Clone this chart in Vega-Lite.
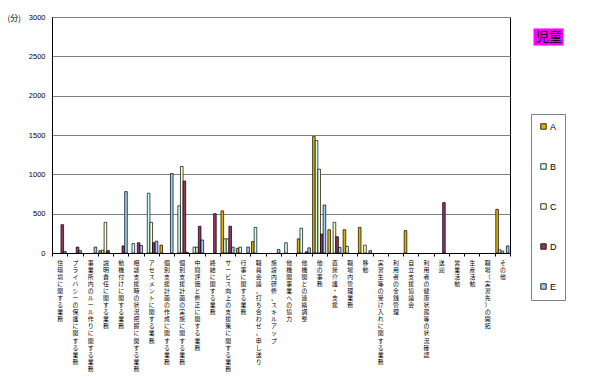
{
  "$schema": "https://vega.github.io/schema/vega-lite/v6.json",
  "width": 458,
  "height": 236,
  "autosize": {"type": "none"},
  "padding": {"left": 52, "top": 17, "right": 83, "bottom": 124},
  "background": "white",
  "config": {
    "view": {"stroke": "black", "strokeWidth": 1},
    "font": "Liberation Sans"
  },
  "datasets": {
    "bars": [
      {"c": "住環境に関する業務", "s": "D", "v": 360},
      {"c": "住環境に関する業務", "s": "E", "v": 20},
      {"c": "プライバシーの保護に関する業務", "s": "D", "v": 75},
      {"c": "プライバシーの保護に関する業務", "s": "E", "v": 30},
      {"c": "事業所内のルール作りに関する業務", "s": "E", "v": 75},
      {"c": "説明責任に関する業務", "s": "A", "v": 30},
      {"c": "説明責任に関する業務", "s": "B", "v": 35},
      {"c": "説明責任に関する業務", "s": "C", "v": 390},
      {"c": "説明責任に関する業務", "s": "D", "v": 30},
      {"c": "動機付けに関する業務", "s": "D", "v": 90},
      {"c": "動機付けに関する業務", "s": "E", "v": 780},
      {"c": "相談支援時の状況把握に関する業務", "s": "B", "v": 120},
      {"c": "相談支援時の状況把握に関する業務", "s": "D", "v": 130},
      {"c": "相談支援時の状況把握に関する業務", "s": "E", "v": 95},
      {"c": "アセスメントに関する業務", "s": "B", "v": 760},
      {"c": "アセスメントに関する業務", "s": "C", "v": 390},
      {"c": "アセスメントに関する業務", "s": "D", "v": 130},
      {"c": "アセスメントに関する業務", "s": "E", "v": 150},
      {"c": "個別支援計画の作成に関する業務", "s": "A", "v": 100},
      {"c": "個別支援計画の作成に関する業務", "s": "E", "v": 1010},
      {"c": "個別支援計画の実施に関する業務", "s": "B", "v": 600},
      {"c": "個別支援計画の実施に関する業務", "s": "C", "v": 1100},
      {"c": "個別支援計画の実施に関する業務", "s": "D", "v": 915},
      {"c": "個別支援計画の実施に関する業務", "s": "E", "v": 10},
      {"c": "中間評価と修正に関する業務", "s": "B", "v": 75},
      {"c": "中間評価と修正に関する業務", "s": "C", "v": 75},
      {"c": "中間評価と修正に関する業務", "s": "D", "v": 340},
      {"c": "中間評価と修正に関する業務", "s": "E", "v": 165},
      {"c": "終結に関する業務", "s": "D", "v": 500},
      {"c": "サービス向上の支援策に関する業務", "s": "A", "v": 535},
      {"c": "サービス向上の支援策に関する業務", "s": "B", "v": 180},
      {"c": "サービス向上の支援策に関する業務", "s": "C", "v": 180},
      {"c": "サービス向上の支援策に関する業務", "s": "D", "v": 340},
      {"c": "サービス向上の支援策に関する業務", "s": "E", "v": 75},
      {"c": "行事に関する業務", "s": "A", "v": 60},
      {"c": "行事に関する業務", "s": "B", "v": 75},
      {"c": "行事に関する業務", "s": "E", "v": 75},
      {"c": "職員会議、打ち合わせ、申し送り", "s": "A", "v": 145},
      {"c": "職員会議、打ち合わせ、申し送り", "s": "B", "v": 325},
      {"c": "施設内研修、スキルアップ", "s": "E", "v": 45},
      {"c": "他機関事業への協力", "s": "B", "v": 130},
      {"c": "他機関との連絡調整", "s": "A", "v": 180},
      {"c": "他機関との連絡調整", "s": "B", "v": 315},
      {"c": "他機関との連絡調整", "s": "D", "v": 15},
      {"c": "他機関との連絡調整", "s": "E", "v": 65},
      {"c": "他の事務", "s": "A", "v": 1480},
      {"c": "他の事務", "s": "B", "v": 1430},
      {"c": "他の事務", "s": "C", "v": 1065},
      {"c": "他の事務", "s": "D", "v": 240},
      {"c": "他の事務", "s": "E", "v": 610},
      {"c": "直接介護・支援", "s": "A", "v": 296},
      {"c": "直接介護・支援", "s": "C", "v": 390},
      {"c": "直接介護・支援", "s": "D", "v": 207},
      {"c": "直接介護・支援", "s": "E", "v": 72},
      {"c": "職場内管理業務", "s": "A", "v": 296},
      {"c": "職場内管理業務", "s": "B", "v": 85},
      {"c": "移動", "s": "A", "v": 325},
      {"c": "移動", "s": "C", "v": 100},
      {"c": "移動", "s": "E", "v": 30},
      {"c": "自立支援協議会", "s": "A", "v": 285},
      {"c": "送迎", "s": "D", "v": 640},
      {"c": "その他", "s": "A", "v": 555},
      {"c": "その他", "s": "B", "v": 40},
      {"c": "その他", "s": "C", "v": 25},
      {"c": "その他", "s": "E", "v": 90}
    ],
    "tag": [{"k": "児童"}]
  },
  "layer": [
    {
      "data": {"name": "bars"},
      "mark": {"type": "bar", "stroke": "black", "strokeWidth": 0.7},
      "encoding": {
        "x": {
          "field": "c",
          "type": "nominal",
          "sort": null,
          "scale": {
            "domain": ["住環境に関する業務", "プライバシーの保護に関する業務", "事業所内のルール作りに関する業務", "説明責任に関する業務", "動機付けに関する業務", "相談支援時の状況把握に関する業務", "アセスメントに関する業務", "個別支援計画の作成に関する業務", "個別支援計画の実施に関する業務", "中間評価と修正に関する業務", "終結に関する業務", "サービス向上の支援策に関する業務", "行事に関する業務", "職員会議、打ち合わせ、申し送り", "施設内研修、スキルアップ", "他機関事業への協力", "他機関との連絡調整", "他の事務", "直接介護・支援", "職場内管理業務", "移動", "実習生等の受け入れに関する業務", "利用者の金銭管理", "自立支援協議会", "利用者の健康状態等の状況確認", "送迎", "営業活動", "生産活動", "職場（実習先）の開拓", "その他"],
            "paddingInner": 0,
            "paddingOuter": 0
          },
          "axis": {
            "title": null,
            "labelAngle": 0,
            "labelAlign": "center",
            "labelBaseline": "top",
            "labelExpr": "split(datum.label, '')",
            "labelFont": "Noto Sans CJK JP",
            "labelFontSize": 5.9,
            "labelLineHeight": 7.1,
            "labelColor": "black",
            "labelPadding": 3,
            "labelOverlap": false,
            "labelBound": false,
            "labelLimit": 0,
            "ticks": true,
            "tickBand": "extent",
            "tickSize": 3,
            "tickColor": "black",
            "domainColor": "black",
            "grid": false
          }
        },
        "xOffset": {
          "field": "s",
          "type": "nominal",
          "scale": {"domain": ["A", "B", "C", "D", "E"], "paddingInner": 0, "paddingOuter": 0.4}
        },
        "y": {
          "field": "v",
          "type": "quantitative",
          "scale": {"domain": [0, 3000]},
          "axis": {
            "title": "(分)",
            "titleAngle": 0,
            "titleAlign": "left",
            "titleBaseline": "top",
            "titleX": -45,
            "titleY": -3,
            "titleFont": "Noto Sans CJK JP",
            "titleFontSize": 8,
            "titleFontWeight": "normal",
            "titleColor": "black",
            "values": [0, 500, 1000, 1500, 2000, 2500, 3000],
            "format": "d",
            "labelFontSize": 7.5,
            "labelColor": "black",
            "labelPadding": 7,
            "ticks": false,
            "domainColor": "black",
            "gridColor": "#808080",
            "gridWidth": 1
          }
        },
        "color": {
          "field": "s",
          "type": "nominal",
          "scale": {"domain": ["A", "B", "C", "D", "E"], "range": ["#e0b000", "#ccffff", "#ffffcc", "#993366", "#99ccff"]},
          "legend": {
            "title": null,
            "orient": "none",
            "legendX": 479,
            "legendY": 97,
            "padding": 8,
            "rowPadding": 30,
            "fillColor": "white",
            "strokeColor": "#808080",
            "symbolType": "square",
            "symbolSize": 30,
            "symbolStrokeColor": "black",
            "symbolStrokeWidth": 0.8,
            "labelFontSize": 9,
            "labelOffset": 2,
            "labelColor": "black"
          }
        }
      }
    },
    {
      "data": {"name": "tag"},
      "mark": {"type": "point", "filled": true, "size": 0, "color": "#ff00ff"},
      "encoding": {
        "shape": {
          "field": "k",
          "type": "nominal",
          "scale": {"range": ["M-1,-0.57H1V0.57H-1Z"]},
          "legend": {
            "title": null,
            "orient": "none",
            "legendX": 481,
            "legendY": 4.5,
            "padding": 0,
            "symbolSize": 900,
            "symbolFillColor": "#ff00ff",
            "symbolOpacity": 1,
            "symbolStrokeColor": "#800080",
            "symbolStrokeWidth": 1,
            "labelOffset": -28,
            "labelFont": "Noto Sans CJK JP",
            "labelFontSize": 13,
            "labelColor": "black"
          }
        }
      }
    }
  ]
}
